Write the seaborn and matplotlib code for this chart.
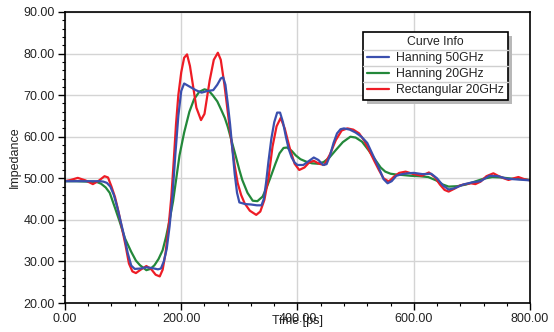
import numpy as np
import pandas as pd
import seaborn as sns
import matplotlib.pyplot as plt
from matplotlib.ticker import MultipleLocator, FormatStrFormatter
from matplotlib.lines import Line2D

# Hanning 50GHz (blue)
tBlue = [0, 20, 40, 60, 66, 72, 78, 84, 90, 96, 102, 108, 114, 120, 130, 140, 150, 160,
         165, 170, 175, 180, 185, 190, 195, 200, 205, 215, 225, 235, 245, 255, 262, 268,
         272, 276, 280, 284, 288, 292, 296, 300, 310, 320, 330, 338, 342, 346, 350, 355,
         360, 365, 370, 375, 380, 385, 390, 395, 400, 410, 420, 428, 436, 444, 450, 456,
         462, 468, 474, 480, 490, 500, 510, 520, 530, 540, 548, 555, 562, 570, 580, 590,
         600, 615, 630, 640, 650, 660, 670, 685, 700, 715, 730, 745, 760, 780, 800]
vBlue = [49.3, 49.3, 49.3, 49.3, 49.2, 48.9, 48.0, 46.0, 43.0, 39.5, 36.0, 32.0, 29.0, 28.2, 28.3, 28.6, 28.4, 28.1,
         28.3, 30.0, 33.0, 38.5, 46.0, 56.0, 65.0, 71.0, 72.8, 72.0, 71.2, 70.6, 71.0, 71.2, 72.5, 74.0,
         74.3, 72.5, 68.0, 63.0, 57.0, 51.0, 46.5, 44.2, 43.8, 43.7, 43.5, 43.5, 45.0, 49.0, 54.0, 59.5,
         63.5, 65.8, 65.8, 63.5, 60.0, 57.0, 55.0, 53.8, 53.2, 53.2, 54.2, 55.0, 54.4, 53.2, 53.4, 55.5,
         58.5, 60.8, 61.8, 62.0, 61.7, 61.0, 60.0, 58.5, 55.5, 52.5, 49.8, 48.8, 49.3, 50.6, 51.0, 51.2,
         51.3, 51.0, 51.1, 50.0, 48.3, 47.3, 47.6, 48.5, 49.0, 49.3, 50.6, 50.5, 49.9, 49.7, 49.5]

# Hanning 20GHz (green)
tGreen = [0, 20, 40, 55, 62, 70, 77, 86, 94, 103, 114, 122, 129, 140, 147, 154, 161, 168,
          174, 180, 186, 192, 197, 205, 214, 222, 231, 240, 247, 254, 262, 269, 275, 280,
          287, 294, 300, 305, 314, 323, 331, 340, 347, 354, 362, 369, 376, 382, 390, 397,
          405, 415, 425, 435, 445, 455, 466, 478, 491, 500, 511, 522, 534, 543, 551, 560,
          570, 580, 595, 610, 625, 640, 650, 660, 675, 690, 705, 720, 735, 750, 770, 785, 800]
vGreen = [49.3, 49.3, 49.2, 49.1, 48.7, 47.8, 46.5, 42.9, 39.6, 35.6, 32.3, 30.2, 29.1, 27.9, 28.2, 29.1, 30.6, 32.7,
          36.0, 40.0, 44.5, 50.5, 55.5, 61.0, 66.0, 69.0, 70.8, 71.4, 71.1, 70.0, 68.5, 66.4, 64.5, 62.4,
          58.8, 55.2, 52.0, 49.6, 46.5, 44.6, 44.5, 45.6, 47.8, 50.4, 53.5, 56.0, 57.3, 57.4, 56.6, 55.5,
          54.6, 54.0, 53.6, 53.5, 53.9, 55.0, 56.8, 58.7, 60.0, 59.8, 58.8, 56.8, 54.4, 52.6, 51.6, 51.1,
          50.9, 50.8, 50.6, 50.5, 50.3, 49.4, 48.5, 48.0, 48.1, 48.5, 49.2, 49.9, 50.3, 50.2, 49.9, 49.8, 49.6]

# Rectangular 20GHz (red)
tRed = [0, 10, 22, 35, 48, 58, 68, 74, 80, 86, 92, 98, 104, 110, 116, 122, 130, 140, 148, 156,
        163, 168, 173, 178, 183, 187, 191, 195, 200, 205, 210, 215, 220, 226, 234, 240, 249, 256,
        263, 268, 274, 280, 286, 292, 297, 303, 309, 318, 329, 336, 343, 350, 357, 364, 371, 378,
        386, 395, 403, 412, 420, 428, 437, 446, 456, 466, 476, 486, 496, 506, 515, 523, 532, 540,
        548, 557, 566, 575, 586, 600, 614, 626, 636, 645, 653, 660, 670, 680, 689, 698, 706, 715,
        725, 737, 745, 755, 763, 772, 780, 790, 800]
vRed = [49.3, 49.6, 50.1, 49.5, 48.6, 49.4, 50.5, 50.2, 48.0, 45.5, 42.0, 38.0, 34.0, 29.5, 27.6, 27.2, 28.0, 28.9, 28.2, 26.8,
        26.4, 28.0, 32.0, 38.0, 45.6, 54.0, 63.0, 70.0, 75.5, 79.0, 79.8, 77.0, 72.5, 67.0, 64.0, 65.5, 73.6, 78.5,
        80.2, 78.5, 72.8, 66.0, 59.2, 53.0, 48.9, 46.0, 44.0, 42.2, 41.2, 42.0, 44.8, 50.0, 57.6, 62.5, 64.5, 62.0,
        57.6, 53.5, 52.0, 52.6, 53.8, 54.2, 53.5, 53.2, 55.8, 59.2, 61.5, 62.0, 61.7, 60.8, 59.0, 56.8, 54.2, 52.0,
        50.0, 49.2, 50.4, 51.3, 51.6, 51.0, 50.6, 51.4, 50.3, 48.5, 47.2, 46.8, 47.5, 48.3, 48.6, 48.8, 48.6, 49.2,
        50.5, 51.2, 50.6, 50.0, 49.6, 50.0, 50.3, 49.8, 49.5]

curveNames = ["Hanning 50GHz", "Hanning 20GHz", "Rectangular 20GHz"]
curveColors = {"Hanning 50GHz": "#3a4fae", "Hanning 20GHz": "#23883a", "Rectangular 20GHz": "#ee1c25"}

df = pd.concat([
    pd.DataFrame({"Time": tGreen, "Impedance": vGreen, "Curve": "Hanning 20GHz"}),
    pd.DataFrame({"Time": tRed, "Impedance": vRed, "Curve": "Rectangular 20GHz"}),
    pd.DataFrame({"Time": tBlue, "Impedance": vBlue, "Curve": "Hanning 50GHz"}),
])

sns.set_style("white")
plt.rcParams['font.family'] = ['Liberation Sans', 'DejaVu Sans']

fig = plt.figure(figsize=(5.54, 3.32), dpi=100)
ax = fig.add_axes([0.1173, 0.0873, 0.8394, 0.8766])

for name in ["Hanning 20GHz", "Rectangular 20GHz", "Hanning 50GHz"]:
    sub = df[df["Curve"] == name]
    sns.lineplot(data=sub, x="Time", y="Impedance", color=curveColors[name],
                 linewidth=1.6, sort=False, ax=ax, legend=False)

ax.set_xlim(0, 800)
ax.set_ylim(20, 90)
ax.xaxis.set_major_locator(MultipleLocator(200))
ax.xaxis.set_minor_locator(MultipleLocator(40))
ax.yaxis.set_major_locator(MultipleLocator(10))
ax.yaxis.set_minor_locator(MultipleLocator(2))
ax.xaxis.set_major_formatter(FormatStrFormatter("%.2f"))
ax.yaxis.set_major_formatter(FormatStrFormatter("%.2f"))
ax.tick_params(which="major", direction="out", length=5, width=1, color="black",
               labelsize=9, labelcolor="#222222", pad=2.5, bottom=True, left=True)
ax.tick_params(which="minor", direction="out", length=2.5, width=0.8, color="black",
               bottom=True, left=True)
ax.grid(True, which="major", color="#d4d4d4", linewidth=1)
for sp in ax.spines.values():
    sp.set_color("black")
    sp.set_linewidth(1.2)

ax.set_xlabel("Time [ps]", fontsize=9, color="#222222")
ax.set_ylabel("Impedance", fontsize=9, color="#222222")
ax.xaxis.set_label_coords(0.5, -0.04)
ax.yaxis.set_label_coords(-0.094, 0.5)

handles = [Line2D([], [], color=curveColors[n], linewidth=1.6) for n in curveNames]
leg = ax.legend(handles, curveNames, title="Curve Info", loc="upper left",
                bbox_to_anchor=(0.641, 0.931), borderaxespad=0, fontsize=8.8,
                title_fontsize=8.8, frameon=True, fancybox=False,
                shadow={"ox": 2.5, "oy": -2.5, "facecolor": "#b8b8b8", "edgecolor": "none", "alpha": 1},
                edgecolor="black", framealpha=1, handlelength=1.8, handletextpad=0.55,
                borderpad=0.35, labelspacing=0.32)
leg.get_frame().set_linewidth(1.2)
for txt in leg.get_texts():
    txt.set_color("#222222")
leg.get_title().set_color("#222222")

# light separators between legend rows
fig.canvas.draw()
renderer = fig.canvas.get_renderer()
frameBox = leg.get_frame().get_window_extent(renderer)
rowTexts = [leg.get_title()] + list(leg.get_texts())
boxes = [t.get_window_extent(renderer) for t in rowTexts]
inv = fig.transFigure.inverted()
for upper, lower in zip(boxes[:-1], boxes[1:]):
    ySep = (upper.y0 + lower.y1) / 2
    (fx0, fy), = inv.transform([(frameBox.x0, ySep)])
    (fx1, _), = inv.transform([(frameBox.x1, ySep)])
    fig.add_artist(Line2D([fx0, fx1], [fy, fy], color="#cfcfcf", linewidth=1, zorder=10))

fig.savefig("out.png", dpi=100)
